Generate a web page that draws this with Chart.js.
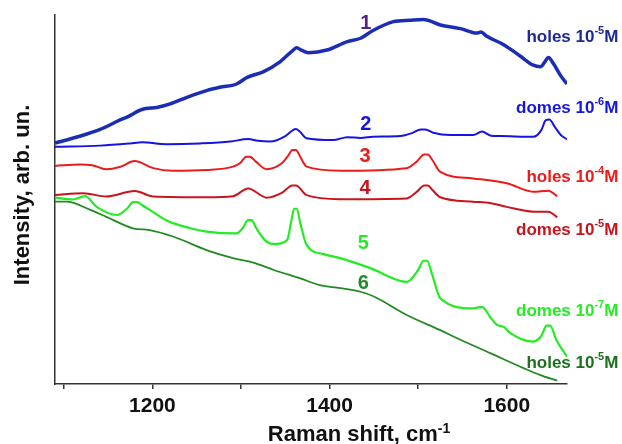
<!DOCTYPE html>
<html>
<head>
<meta charset="utf-8">
<script src="https://cdn.jsdelivr.net/npm/chart.js@4.4.1/dist/chart.umd.min.js"></script>
<style>
  html, body { margin: 0; padding: 0; background: #fff; }
  #wrap { width: 622px; height: 444px; }
</style>
</head>
<body>
<div id="wrap"><canvas id="ramanChart" width="622" height="444"></canvas></div>
<script>
// Raman spectra (arbitrary intensity units 0..100)
const xTicks = [1100, 1200, 1300, 1400, 1500, 1600];

const shift1 = [1090, 1116, 1141, 1163, 1172, 1188, 1206, 1220, 1239, 1261, 1276, 1295, 1307, 1325, 1344, 1358, 1363, 1368, 1376, 1397, 1420, 1435, 1449, 1472, 1491, 1506, 1525, 1548, 1566, 1571, 1577, 1597, 1615, 1630, 1638, 1643, 1647, 1653, 1661, 1668];
const int1   = [65.3, 67.0, 69.0, 71.5, 72.4, 74.4, 75.0, 75.9, 77.7, 79.5, 80.4, 81.3, 83.1, 84.6, 87.3, 90.3, 91.1, 90.5, 89.8, 90.5, 92.8, 93.7, 95.8, 98.2, 98.6, 98.8, 97.3, 96.3, 95.1, 95.4, 94.3, 91.9, 88.9, 86.4, 86.0, 87.3, 88.5, 86.7, 83.5, 81.3];

const shift2 = [1090, 1141, 1175, 1188, 1216, 1254, 1288, 1308, 1319, 1333, 1350, 1358, 1362, 1366, 1374, 1404, 1420, 1435, 1449, 1480, 1493, 1503, 1508, 1517, 1536, 1562, 1572, 1582, 1593, 1630, 1639, 1644, 1648, 1655, 1661, 1668];
const int2   = [64.3, 64.6, 65.2, 65.5, 65.0, 65.2, 65.7, 66.4, 65.9, 65.7, 67.2, 68.7, 69.1, 68.5, 66.6, 66.1, 66.9, 66.7, 67.0, 67.2, 68.0, 69.0, 69.0, 68.1, 67.5, 67.5, 68.4, 67.3, 67.2, 67.0, 68.8, 71.5, 71.7, 69.4, 67.5, 66.3];

const shift3 = [1090, 1118, 1132, 1148, 1163, 1180, 1201, 1223, 1261, 1291, 1299, 1306, 1310, 1317, 1329, 1346, 1353, 1358, 1362, 1367, 1374, 1412, 1487, 1498, 1507, 1511, 1516, 1525, 1562, 1600, 1630, 1647, 1657];
const int3   = [59.1, 59.5, 59.3, 58.2, 58.8, 60.4, 58.5, 57.8, 58.0, 58.9, 59.9, 61.6, 61.6, 60.2, 58.2, 59.8, 61.8, 63.4, 63.4, 61.5, 58.9, 57.8, 58.5, 60.2, 62.2, 62.2, 60.7, 57.5, 55.7, 54.4, 52.1, 52.4, 50.9];

const shift4 = [1090, 1122, 1148, 1180, 1201, 1261, 1291, 1308, 1329, 1346, 1358, 1362, 1374, 1412, 1487, 1498, 1507, 1511, 1516, 1525, 1562, 1582, 1600, 1630, 1647, 1657];
const int4   = [51.2, 51.7, 50.8, 52.3, 50.8, 50.6, 50.9, 53.0, 50.5, 51.8, 53.8, 53.8, 51.2, 50.1, 50.3, 52.0, 53.8, 53.8, 52.6, 50.6, 49.4, 49.0, 48.0, 46.7, 46.7, 45.2];

const shift5 = [1090, 1110, 1124, 1137, 1160, 1172, 1178, 1183, 1188, 1197, 1216, 1243, 1261, 1295, 1302, 1308, 1312, 1317, 1327, 1337, 1352, 1357, 1360, 1363, 1367, 1374, 1393, 1412, 1446, 1487, 1500, 1506, 1510, 1516, 1525, 1562, 1572, 1582, 1589, 1597, 1604, 1630, 1639, 1645, 1649, 1656, 1668];
const int5   = [50.5, 50.0, 50.9, 48.0, 45.8, 47.7, 49.3, 49.3, 48.5, 47.2, 44.3, 42.2, 41.3, 40.8, 42.3, 44.4, 44.4, 42.3, 39.0, 37.9, 39.0, 44.5, 47.5, 47.5, 43.5, 37.7, 35.2, 34.1, 31.4, 27.7, 30.9, 33.4, 33.4, 29.5, 23.2, 20.5, 20.9, 17.9, 16.0, 15.4, 13.8, 11.5, 13.0, 15.8, 15.8, 11.9, 7.4];

const shift6 = [1090, 1103, 1130, 1148, 1178, 1197, 1224, 1261, 1291, 1314, 1337, 1367, 1389, 1412, 1435, 1450, 1487, 1525, 1544, 1582, 1619, 1638, 1657];
const int6   = [49.4, 49.4, 47.2, 45.3, 42.2, 41.7, 39.9, 36.3, 34.1, 32.9, 30.9, 28.6, 26.8, 26.0, 25.0, 23.7, 18.7, 14.6, 12.4, 8.3, 4.3, 2.4, 0.9];

const curveNumbers = ['1', '2', '3', '4', '5', '6'];
const sampleNames = ['holes', 'domes', 'holes', 'domes', 'domes', 'holes'];
const concExponents = ['-5', '-6', '-4', '-5', '-7', '-5'];

const lineColors = ['#1b2db5', '#1414e4', '#ec1a1a', '#c8141c', '#24ec24', '#238a23'];
const numberColors = ['#5a1f8e', '#1414e4', '#ec1a1a', '#c8141c', '#24ec24', '#238a23'];
const nameColors = ['#1b2a96', '#1414e4', '#ec1a1a', '#c8141c', '#24ec24', '#1d701d'];
const lineWidths = [3.5, 2, 2, 2, 2.2, 1.8];

// label anchors (data units)
const numberPos = [[1441, 97.6], [1441, 70.2], [1440, 61.6], [1440, 53.0], [1438, 38.1], [1438, 27.3]];
const namePos = [[1726, 94.0], [1726, 74.8], [1726, 55.9], [1726, 41.7], [1726, 19.6], [1726, 5.7]];

const shifts = [shift1, shift2, shift3, shift4, shift5, shift6];
const intensities = [int1, int2, int3, int4, int5, int6];

function pairUp(xs, ys) {
    return xs.map((x, i) => ({ x: x, y: ys[i] }));
}

const FONT = 'Liberation Sans, Arial, sans-serif';

// text with a superscript part
function drawSupText(ctx, parts, x, y, size, align) {
    const supSize = Math.round(size * 0.62);
    let total = 0;
    const widths = parts.map(p => {
        ctx.font = 'bold ' + (p.sup ? supSize : size) + 'px ' + FONT;
        const w = ctx.measureText(p.t).width;
        total += w;
        return w;
    });
    let cx = align === 'right' ? x - total : (align === 'center' ? x - total / 2 : x);
    parts.forEach((p, i) => {
        ctx.font = 'bold ' + (p.sup ? supSize : size) + 'px ' + FONT;
        ctx.fillText(p.t, cx, p.sup ? y - size * 0.38 : y);
        cx += widths[i];
    });
}

const labelPlugin = {
    id: 'labelPlugin',
    afterDraw(chart) {
        const ctx = chart.ctx;
        const xs = chart.scales.x;
        const ys = chart.scales.y;
        ctx.save();
        ctx.textBaseline = 'middle';

        curveNumbers.forEach((n, i) => {
            ctx.fillStyle = numberColors[i];
            ctx.font = 'bold 20px ' + FONT;
            ctx.textAlign = 'center';
            ctx.fillText(n, xs.getPixelForValue(numberPos[i][0]), ys.getPixelForValue(numberPos[i][1]));
        });

        ctx.textAlign = 'left';
        sampleNames.forEach((name, i) => {
            ctx.fillStyle = nameColors[i];
            drawSupText(ctx, [
                { t: name + ' 10' },
                { t: concExponents[i], sup: true },
                { t: 'M' }
            ], xs.getPixelForValue(namePos[i][0]), ys.getPixelForValue(namePos[i][1]), 17, 'right');
        });

        // axis titles
        ctx.fillStyle = '#111';
        ctx.textBaseline = 'alphabetic';
        drawSupText(ctx, [{ t: 'Raman shift, cm' }, { t: '-1', sup: true }], 359, 441, 22, 'center');

        ctx.translate(29, 195);
        ctx.rotate(-Math.PI / 2);
        ctx.font = 'bold 22px ' + FONT;
        ctx.textAlign = 'center';
        ctx.fillText('Intensity, arb. un.', 0, 0);
        ctx.restore();
    }
};

document.addEventListener('DOMContentLoaded', function() {
    const ctx = document.getElementById('ramanChart').getContext('2d');
    new Chart(ctx, {
        type: 'line',
        data: {
            datasets: shifts.map((xs, i) => ({
                data: pairUp(xs, intensities[i]),
                borderColor: lineColors[i],
                borderWidth: lineWidths[i],
                pointRadius: 0,
                fill: false,
                cubicInterpolationMode: 'monotone'
            }))
        },
        options: {
            responsive: false,
            animation: false,
            devicePixelRatio: 1,
            layout: { padding: { top: 15, right: 55, left: 0, bottom: 0 } },
            plugins: {
                legend: { display: false },
                tooltip: { enabled: false }
            },
            scales: {
                x: {
                    type: 'linear',
                    min: 1090,
                    max: 1668,
                    afterBuildTicks: scale => { scale.ticks = xTicks.map(v => ({ value: v })); },
                    afterFit: scale => { scale.height = 60; },
                    grid: { drawOnChartArea: false, drawTicks: true, tickLength: 5, color: '#333', lineWidth: 1.5 },
                    border: { display: true, color: '#333', width: 1.5 },
                    ticks: {
                        autoSkip: false,
                        maxRotation: 0,
                        padding: 5,
                        color: '#111',
                        font: { family: FONT, size: 21, weight: 'bold' },
                        callback: v => (v % 200 === 0 ? String(v) : '')
                    }
                },
                y: {
                    min: 0,
                    max: 100,
                    afterFit: scale => { scale.width = 55; },
                    grid: { display: false },
                    border: { display: true, color: '#333', width: 1.5 },
                    ticks: { display: false }
                }
            }
        },
        plugins: [labelPlugin]
    });
});
</script>
</body>
</html>
